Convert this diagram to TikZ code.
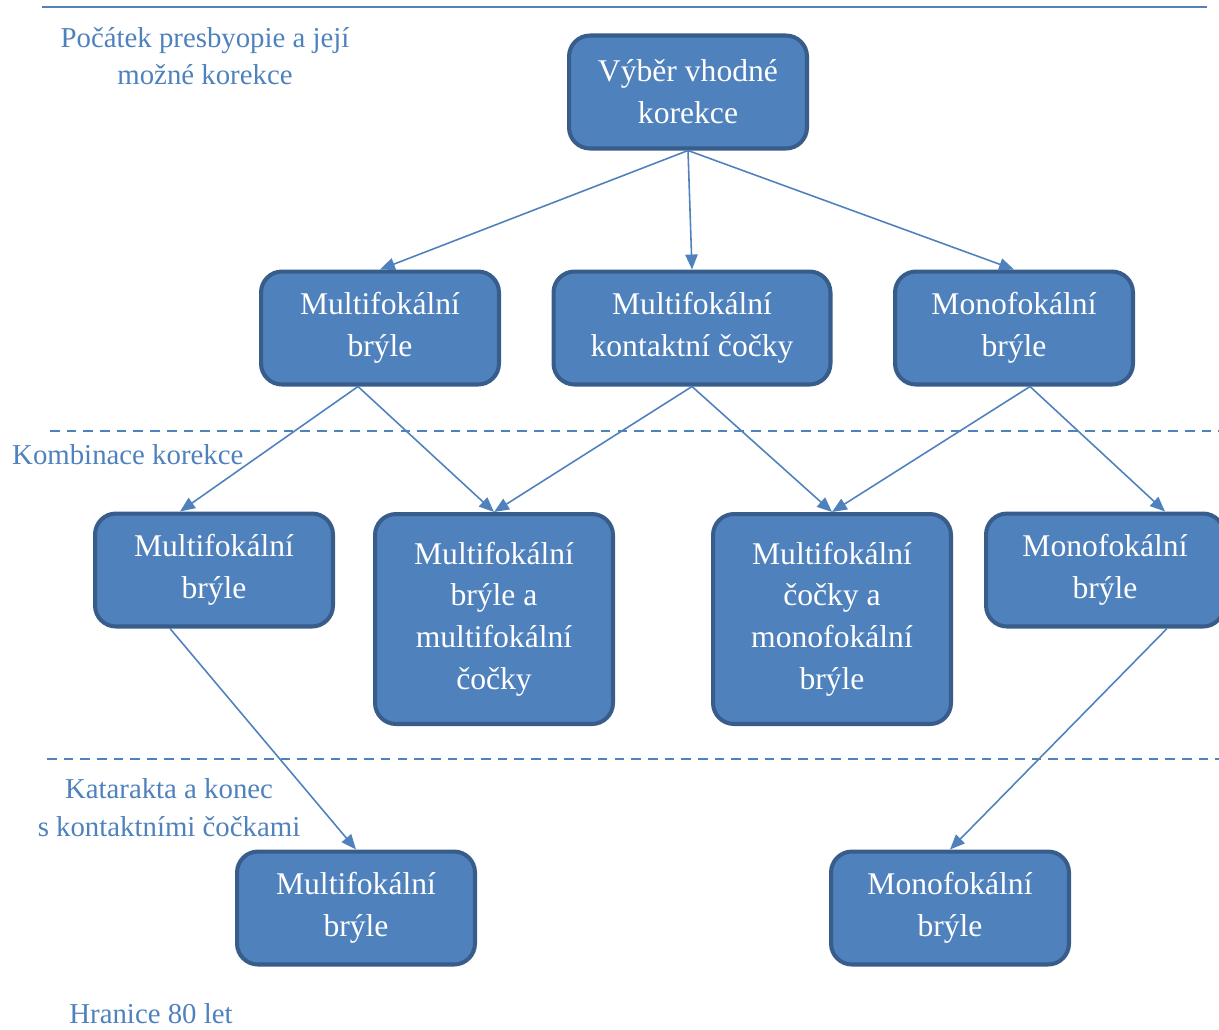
\documentclass[tikz,border=0pt]{standalone}
\usepackage{fontspec}
\setmainfont{Liberation Serif}
\usepackage{tikz}
\usetikzlibrary{arrows.meta, calc, positioning}
\definecolor{boxfill}{HTML}{4F81BD}
\definecolor{boxline}{HTML}{385D8A}
\definecolor{labelblue}{HTML}{4F81BD}

\begin{document}
\begin{tikzpicture}[x=0.02cm, y=-0.02cm,
		box/.style={draw=boxline, fill=boxfill, line width=2.3pt, rounded corners=0.42cm,
			text=white, align=center, minimum width=4.76cm, minimum height=2.26cm,
			font=\fontsize{18}{23.8}\selectfont},
		tallbox/.style={box, minimum height=4.2cm},
		link/.style={draw=labelblue, line width=0.9pt, -{Triangle[length=8.5pt,width=7pt]}},
		stage/.style={text=labelblue, align=center, font=\fontsize{16.4}{21.5}\selectfont},
		border/.style={draw=labelblue, line width=1pt, dash pattern=on 5.5pt off 4pt}]
	\useasboundingbox (0,0) rectangle (1219,1029);
	\clip (0,0) rectangle (1219,1029);
	% Stage lines
	\draw [draw=labelblue, line width=1.3pt] (42,7) -- (1207,7);
	\draw [border] (50,431) -- (1219,431);
	\draw [border] (47,759) -- (1219,759);
	
	% Stage labels
	\node [stage] (lstart) at (205,56) {Počátek presbyopie a její\\možné korekce};
	\node [stage, anchor=west] (lcomb) at (6,455) {Kombinace korekce};
	\node [stage] (lcat) at (169,808) {Katarakta a konec\\s kontaktními čočkami};
	\node [stage] (lend) at (151,1014) {Hranice 80 let};
	
	% Boxes
	\node [box] (top) at (688,92) {Výběr vhodné\\korekce};
	\node [box] (mbryle) at (380,328) {Multifokální\\brýle};
	\node [box, minimum width=5.54cm] (mcocky) at (692,328) {Multifokální\\kontaktní čočky};
	\node [box] (obryle) at (1014,328) {Monofokální\\brýle};
	\node [box] (mbryleb) at (214,570) {Multifokální\\brýle};
	\node [tallbox] (mix) at (494,619) {Multifokální\\brýle a\\multifokální\\čočky};
	\node [tallbox] (mixb) at (832,619) {Multifokální\\čočky a\\monofokální\\brýle};
	\node [box] (obryleb) at (1105,570) {Monofokální\\brýle};
	\node [box] (mbrylec) at (356,908) {Multifokální\\brýle};
	\node [box] (obrylec) at (950,908) {Monofokální\\brýle};
	
	% Links
	\draw [link] (top.south) -- (mbryle.north);
	\draw [link] (top.south) -- (mcocky.north);
	\draw [link] (top.south) -- (obryle.north);
	\draw [link] ([xshift=-0.44cm]mbryle.south) -- ([xshift=-0.68cm]mbryleb.north);
	\draw [link] ([xshift=-0.44cm]mbryle.south) -- (mix.north);
	\draw [link] (mcocky.south) -- (mix.north);
	\draw [link] (mcocky.south) -- (mixb.north);
	\draw [link] ([xshift=0.32cm]obryle.south) -- (mixb.north);
	\draw [link] ([xshift=0.32cm]obryle.south) -- ([xshift=1.2cm]obryleb.north);
	\draw [link] ([xshift=-0.88cm]mbryleb.south) -- (mbrylec.north);
	\draw [link] ([xshift=1.24cm]obryleb.south) -- (obrylec.north);
\end{tikzpicture}
\end{document}
